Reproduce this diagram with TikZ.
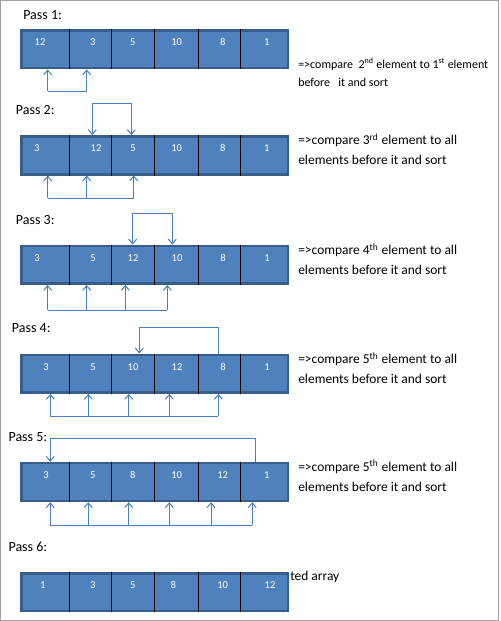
\documentclass[tikz,border=0pt]{standalone}
\usepackage{fontspec}
\setmainfont{Carlito}
\usetikzlibrary{arrows.meta}
\definecolor{cellblue}{HTML}{4F81BD}
\definecolor{celledge}{HTML}{385D8A}
\definecolor{linkblue}{HTML}{4A7EBB}
\definecolor{framegray}{HTML}{A0A0A0}
\tikzset{
  row/.style={draw=celledge, fill=cellblue, line width=1.9pt, minimum width=199.9pt, minimum height=28.4pt, inner sep=0pt},
  num/.style={text=white, font=\fontsize{7.9}{9}\selectfont, inner sep=0pt},
  pass/.style={anchor=west, inner sep=0pt, font=\fontsize{10.5}{12}\selectfont},
  note/.style={anchor=west, inner sep=0pt, align=left, font=\fontsize{10.1}{15}\selectfont},
  sep/.style={draw=black, line width=0.8pt},
  link/.style={draw=linkblue, line width=0.75pt},
  tip/.style={-{Straight Barb[length=3.5pt,width=6pt]}},
  tips/.style={{Straight Barb[length=3.5pt,width=6pt]}-{Straight Barb[length=3.5pt,width=6pt]}}
}
\begin{document}
\begin{tikzpicture}[x=0.75pt, y=-0.75pt]
  \useasboundingbox (0,0) rectangle (500,621);
  \draw[framegray, line width=0.75pt] (0.5,0.5) rectangle (498.5,620.5);

  % the six passes
  \node[row] (r1) at (154.5,49.2) {};
  \node[row] (r2) at (154.5,155.3) {};
  \node[row] (r3) at (154.5,264.7) {};
  \node[row] (r4) at (154.5,373.7) {};
  \node[row] (r5) at (154.5,482) {};
  \node[row] (r6) at (154.5,592.2) {};

  % cell borders
  \foreach \r in {r1,r2,r3,r4,r5,r6}
    \foreach \x in {69.3,111.3,154.7,198.7,240.7} {
      \coordinate (d) at (\x,0);
      \draw[sep] (d |- \r.north) -- (d |- \r.south);
    }

  % values
  \foreach \x/\v in {40/12, 92.7/3, 132.7/5, 176.7/10, 222.7/8, 266.7/1}
    \node[num] at (\x,42) {\v};
  \foreach \x/\v in {36.7/3, 96/12, 133/5, 176.7/10, 222.7/8, 266.7/1}
    \node[num] at (\x,148) {\v};
  \foreach \x/\v in {37/3, 93/5, 133/12, 177/10, 223/8, 267/1}
    \node[num] at (\x,258) {\v};
  \foreach \x/\v in {46/3, 93/5, 133/10, 177/12, 223/8, 267/1}
    \node[num] at (\x,366.7) {\v};
  \foreach \x/\v in {46/3, 92.7/5, 132.7/8, 176.7/10, 222.7/12, 266.7/1}
    \node[num] at (\x,475) {\v};
  \foreach \x/\v in {42.7/1, 92.7/3, 132.7/5, 173.3/8, 222.7/10, 270/12}
    \node[num] at (\x,585) {\v};

  % pass titles
  \node[pass] (p1) at (23,15) {Pass 1:};
  \node[pass] (p2) at (15.7,110) {Pass 2:};
  \node[pass] (p3) at (15.7,220) {Pass 3:};
  \node[pass] (p4) at (11.7,328.3) {Pass 4:};
  \node[pass] (p5) at (8.3,436.7) {Pass 5:};
  \node[pass] (p6) at (8.3,546.7) {Pass 6:};

  % notes
  \node[note, font=\fontsize{9}{13.3}\selectfont] (n1) at (298,72.2)
    {=>compare\ \ 2\textsuperscript{nd} element to 1\textsuperscript{st} element\\before\ \ \ it and sort};
  \node[note] (n2) at (298,149.3) {=>compare 3\textsuperscript{rd} element to all\\elements before it and sort};
  \node[note] (n3) at (298,259.2) {=>compare 4\textsuperscript{th} element to all\\elements before it and sort};
  \node[note] (n4) at (298,368.3) {=>compare 5\textsuperscript{th} element to all\\elements before it and sort};
  \node[note] (n5) at (298,476) {=>compare 5\textsuperscript{th} element to all\\elements before it and sort};
  \node[note] (n6) at (290,576.7) {ted array};

  % comparisons below each pass
  \coordinate (b1a) at (47.7,91);  \coordinate (b1b) at (86.7,91);
  \draw[link] (b1a) -- (b1b);
  \foreach \x in {47.7,86.7} {
    \coordinate (t) at (\x,91);
    \draw[link, tip] (t) -- (t |- r1.south);
  }
  \coordinate (b2a) at (47.7,198.3);  \coordinate (b2b) at (133.7,198.3);
  \draw[link] (b2a) -- (b2b);
  \foreach \x in {47.7,86.7,133.7} {
    \coordinate (t) at (\x,198.3);
    \draw[link, tip] (t) -- (t |- r2.south);
  }
  \coordinate (b3a) at (47.7,310);  \coordinate (b3b) at (167.3,310);
  \draw[link] (b3a) -- (b3b);
  \foreach \x in {47.7,86.7,125.3,167.3} {
    \coordinate (t) at (\x,310);
    \draw[link, tip] (t) -- (t |- r3.south);
  }
  \coordinate (b4a) at (50.3,416);  \coordinate (b4b) at (218.3,416);
  \draw[link] (b4a) -- (b4b);
  \foreach \x in {50.3,88.3,128.7,169.3,218.3} {
    \coordinate (t) at (\x,416);
    \draw[link, tip] (t) -- (t |- r4.south);
  }
  \coordinate (b5a) at (50.3,525.3);  \coordinate (b5b) at (252.3,525.3);
  \draw[link] (b5a) -- (b5b);
  \foreach \x in {50.3,88.3,128.7,169.3,211,252.3} {
    \coordinate (t) at (\x,525.3);
    \draw[link, tip] (t) -- (t |- r5.south);
  }

  % swaps above each pass
  \coordinate (a2a) at (92.3,103.3);  \coordinate (a2b) at (131.3,103.3);
  \draw[link, tips] (a2a |- r2.north) -- (a2a) -- (a2b) -- (a2b |- r2.north);
  \coordinate (a3a) at (132.7,213.3);  \coordinate (a3b) at (172.3,213.3);
  \draw[link, tips] (a3a |- r3.north) -- (a3a) -- (a3b) -- (a3b |- r3.north);
  \coordinate (a4a) at (139.3,327.3);  \coordinate (a4b) at (218.3,327.3);
  \draw[link, tip] (a4b |- r4.north) -- (a4b) -- (a4a) -- (a4a |- r4.north);
  \coordinate (a5a) at (50.3,438.3);  \coordinate (a5b) at (255.3,438.3);
  \draw[link, tip] (a5b |- r5.north) -- (a5b) -- (a5a) -- (a5a |- r5.north);
\end{tikzpicture}
\end{document}
